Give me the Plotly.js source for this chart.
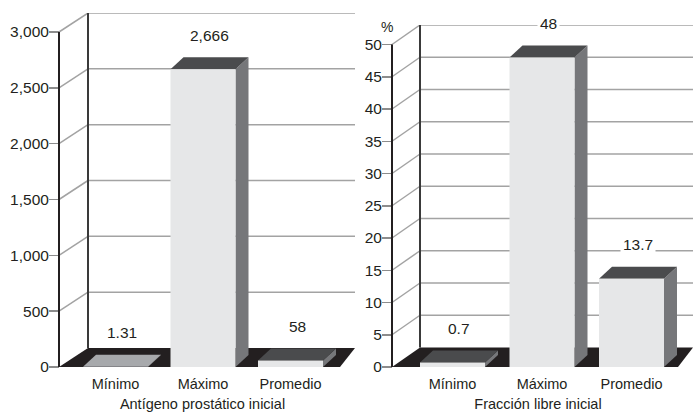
<!DOCTYPE html>
<html>
<head>
<meta charset="utf-8">
<script src="https://cdn.plot.ly/plotly-3.0.1.min.js"></script>
<style>
  html, body { margin: 0; padding: 0; background: #fff; }
  #chart { width: 693px; height: 416px; }
</style>
</head>
<body>
<div id="chart"></div>
<script>
// ---- data ----
const categories = ['Mínimo', 'Máximo', 'Promedio'];

const psaValues = [1.31, 2666, 58];
const psaLabels = ['1.31', '2,666', '58'];
const psaTicks = [0, 500, 1000, 1500, 2000, 2500, 3000];
const psaTickText = ['0', '500', '1,000', '1,500', '2,000', '2,500', '3,000'];
const psaTitle = 'Antígeno prostático inicial';

const freeValues = [0.7, 48, 13.7];
const freeLabels = ['0.7', '48', '13.7'];
const freeTicks = [0, 5, 10, 15, 20, 25, 30, 35, 40, 45, 50];
const freeTickText = ['0', '5', '10', '15', '20', '25', '30', '35', '40', '45', '50'];
const freeTitle = 'Fracción libre inicial';
const freeUnit = '%';

// ---- look ----
const W = 693, H = 416;
const FONT = '"Liberation Sans", Arial, sans-serif';
const FS_NUM = 15.5, FS_TXT = 14.5;
const INK = '#231f20';
const GRID = '#a3a3a3';
const FACE = '#e6e7e8', SIDE = '#76777a', LID = '#4a4b4d', FLAT_LID = '#a7a9ac';

// frame geometry of each 3-D panel, in screen pixels
const panels = [
  { xa: 'x', ya: 'y', axisPx: 59, leftPx: 50, rightPx: 355, firstPx: 115.5, stepPx: 87.5,
    basePx: 367, topTickPx: 32, wallTopPx: 13, wallDx: 29, wallDy: 19,
    values: psaValues, labels: psaLabels, ticks: psaTicks, tickText: psaTickText, title: psaTitle },
  { xa: 'x2', ya: 'y2', axisPx: 392, leftPx: 383, rightPx: 693, firstPx: 452.5, stepPx: 89.5,
    basePx: 367, topTickPx: 44.5, wallTopPx: 25, wallDx: 28, wallDy: 19.5,
    values: freeValues, labels: freeLabels, ticks: freeTicks, tickText: freeTickText, title: freeTitle }
];
const BAR_W = 65, BAR_DX = 13, BAR_DY = 12, FLOOR_CUT = 15;

const shapes = [];
const annotations = [];
const layout = {
  width: W, height: H,
  margin: { l: 0, r: 0, t: 0, b: 0 },
  paper_bgcolor: '#fff', plot_bgcolor: 'rgba(0,0,0,0)',
  showlegend: false,
  font: { family: FONT, size: FS_TXT, color: INK },
  shapes: shapes, annotations: annotations
};

function poly(p, pts, fill) {
  const d = 'M' + pts.map(q => q[0] + ',' + q[1]).join('L') + 'Z';
  shapes.push({ type: 'path', xref: p.xa, yref: p.ya, path: d,
                fillcolor: fill, line: { width: 0 }, layer: 'above' });
}
function seg(p, x0, y0, x1, y1, color, width) {
  shapes.push({ type: 'line', xref: p.xa, yref: p.ya, x0: x0, y0: y0, x1: x1, y1: y1,
                line: { color: color, width: width }, layer: 'above' });
}

panels.forEach((p, k) => {
  const ux = p.stepPx;                                        // px per category
  const topTick = p.ticks[p.ticks.length - 1];
  const uy = (p.basePx - p.topTickPx) / topTick;               // px per value unit
  const X = px => (px - p.firstPx) / ux;                       // pixel column -> x value
  const dX = px => px / ux, dY = px => px / uy;                // pixel offsets -> data offsets

  const xL = X(p.axisPx), xR = X(p.rightPx);
  const xBack = X(p.axisPx + p.wallDx);
  const wDy = dY(p.wallDy);
  const yTop = topTick + wDy;

  const sfx = k === 0 ? '' : '2';
  layout['xaxis' + sfx] = {
    domain: [p.leftPx / W, p.rightPx / W],
    range: [X(p.leftPx), xR],
    anchor: 'y' + sfx,
    tickmode: 'array', tickvals: categories.map((c, i) => i), ticktext: categories,
    ticks: '', showline: false, showgrid: false, zeroline: false,
    tickfont: { size: FS_TXT, color: INK },
    ticklabelstandoff: 6,
    title: { text: p.title, font: { size: FS_TXT, color: INK }, standoff: 8 },
    fixedrange: true
  };
  layout['yaxis' + sfx] = {
    domain: [(H - p.basePx) / H, (H - p.wallTopPx) / H],
    range: [0, (p.basePx - p.wallTopPx) / uy],
    anchor: 'free', position: p.axisPx / W, side: 'left',
    tickmode: 'array', tickvals: p.ticks, ticktext: p.tickText,
    ticks: 'outside', ticklen: 10, tickwidth: 1.5, tickcolor: '#8c8c8c',
    ticklabelstandoff: -3,
    showline: false, showgrid: false, zeroline: false,
    tickfont: { size: FS_NUM, color: INK },
    fixedrange: true
  };

  // back-wall gridlines and the slanted connectors from each tick
  p.ticks.forEach(v => {
    if (v === 0) return;
    seg(p, xBack, v + wDy, xR, v + wDy, GRID, 1.5);
    seg(p, xL, v, xBack, v + wDy, GRID, 1.5);
  });
  // back-wall edge and front value axis
  seg(p, xBack, wDy, xBack, yTop, '#3a3a3a', 2);
  seg(p, xL, 0, xL, topTick, INK, 2);

  // floor slab
  poly(p, [[xL, 0], [xBack, wDy], [xR, wDy], [X(p.rightPx - FLOOR_CUT), 0]], INK);

  // 3-D columns
  const hw = dX(BAR_W) / 2, bdx = dX(BAR_DX), bdy = dY(BAR_DY);
  p.values.forEach((v, i) => {
    const a = i - hw, b = i + hw;
    const flat = v * uy < 1;
    poly(p, [[b, 0], [b + bdx, bdy], [b + bdx, v + bdy], [b, v]], SIDE);
    poly(p, [[a, v], [a + bdx, v + bdy], [b + bdx, v + bdy], [b, v]], flat ? FLAT_LID : LID);
    if (!flat) poly(p, [[a, 0], [a, v], [b, v], [b, 0]], FACE);

    annotations.push({
      xref: p.xa, yref: p.ya, x: i + bdx / 2, y: v,
      text: p.labels[i], showarrow: false, yanchor: 'middle', yshift: 34,
      font: { size: FS_NUM, color: INK },
      bgcolor: '#fff', borderpad: 2
    });
  });
});

// unit of the right-hand value axis
annotations.push({
  xref: 'paper', yref: 'paper', x: 387 / W, y: (H - 27) / H,
  text: freeUnit, showarrow: false, xanchor: 'center', yanchor: 'middle',
  font: { size: 14, color: INK }
});

Plotly.newPlot('chart', [], layout, { staticPlot: true, displayModeBar: false });
</script>
</body>
</html>
